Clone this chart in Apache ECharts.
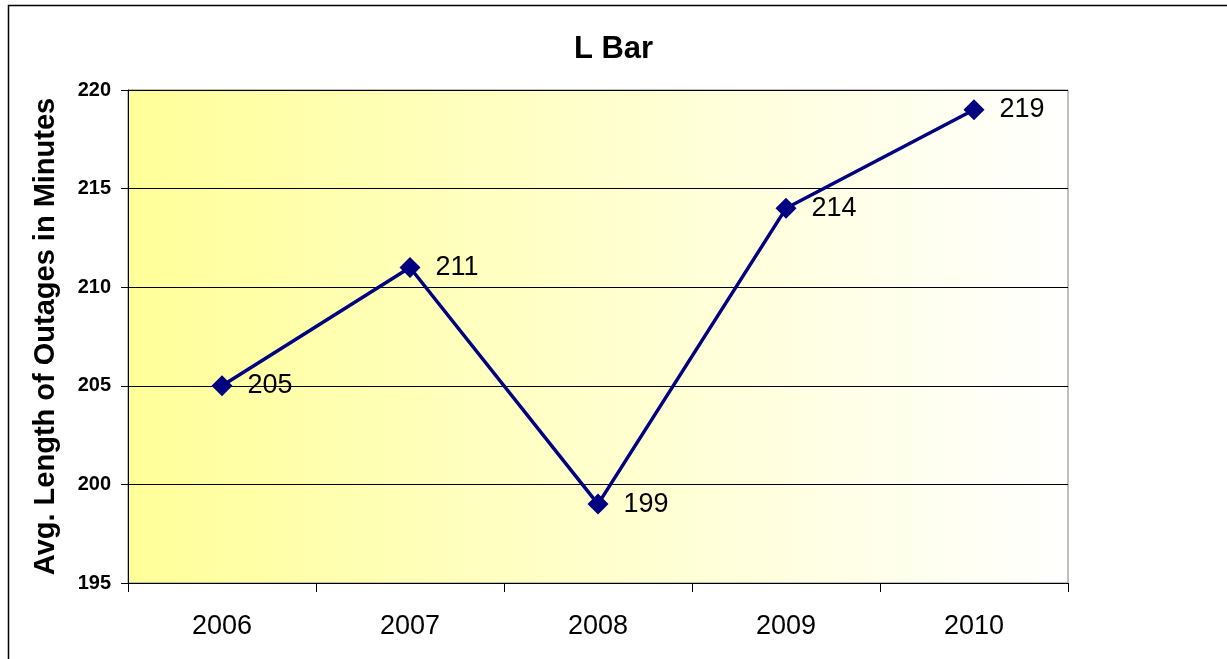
<!DOCTYPE html>
<html>
<head>
<meta charset="utf-8">
<style>
  html, body { margin: 0; padding: 0; background: #fff; }
  #chart { width: 1227px; height: 659px; }
</style>
<script src="https://cdn.jsdelivr.net/npm/echarts@6/dist/echarts.min.js"></script>
</head>
<body>
<div id="chart"></div>
<script>
var years = ['2006', '2007', '2008', '2009', '2010'];
var outageMinutes = [205, 211, 199, 214, 219];
var yTicks = { min: 195, max: 220, step: 5 };

var myChart = echarts.init(document.getElementById('chart'));

var option = {
    backgroundColor: '#fff',
    animation: false,
    title: {
        text: 'L Bar',
        left: 'center',
        top: 29,
        textStyle: {
            fontFamily: 'Liberation Sans, Arial, sans-serif',
            fontSize: 31,
            fontWeight: 'bold',
            color: '#000'
        }
    },
    graphic: [
        {
            type: 'rect',
            shape: { x: 8.5, y: 5.5, width: 1240, height: 700 },
            style: { fill: 'none', stroke: '#000', lineWidth: 1.5 },
            silent: true
        }
    ],
    grid: {
        left: 128,
        top: 90,
        width: 940,
        height: 493,
        show: true,
        borderColor: '#808080',
        borderWidth: 1,
        backgroundColor: new echarts.graphic.LinearGradient(0, 0, 1, 0, [
            { offset: 0, color: '#ffff99' },
            { offset: 1, color: '#ffffff' }
        ])
    },
    xAxis: {
        type: 'category',
        data: years,
        boundaryGap: true,
        axisLine: { lineStyle: { color: '#000', width: 1 } },
        axisTick: { show: true, length: 9, lineStyle: { color: '#000' } },
        axisLabel: {
            margin: 30,
            fontFamily: 'Liberation Sans, Arial, sans-serif',
            fontSize: 27,
            color: '#000'
        },
        splitLine: { show: false }
    },
    yAxis: {
        type: 'value',
        min: yTicks.min,
        max: yTicks.max,
        interval: yTicks.step,
        name: 'Avg. Length of Outages in Minutes',
        nameLocation: 'middle',
        nameGap: 68,
        nameTextStyle: {
            fontFamily: 'Liberation Sans, Arial, sans-serif',
            fontSize: 29,
            fontWeight: 'bold',
            color: '#000'
        },
        axisLine: { show: true, lineStyle: { color: '#000', width: 1 } },
        axisTick: { show: true, length: 7, lineStyle: { color: '#000' } },
        axisLabel: {
            margin: 17,
            fontFamily: 'Liberation Sans, Arial, sans-serif',
            fontSize: 20,
            fontWeight: 'bold',
            color: '#000'
        },
        splitLine: { show: true, lineStyle: { color: '#000', width: 1 } }
    },
    series: [
        {
            type: 'line',
            data: outageMinutes,
            symbol: 'diamond',
            symbolSize: 21,
            lineStyle: { color: '#000080', width: 3.5 },
            itemStyle: { color: '#000080' },
            label: {
                show: true,
                position: 'right',
                distance: 15,
                fontFamily: 'Liberation Sans, Arial, sans-serif',
                fontSize: 27,
                color: '#000'
            }
        }
    ]
};

myChart.setOption(option);

window.addEventListener('resize', function () {
    myChart.resize();
});
</script>
</body>
</html>
